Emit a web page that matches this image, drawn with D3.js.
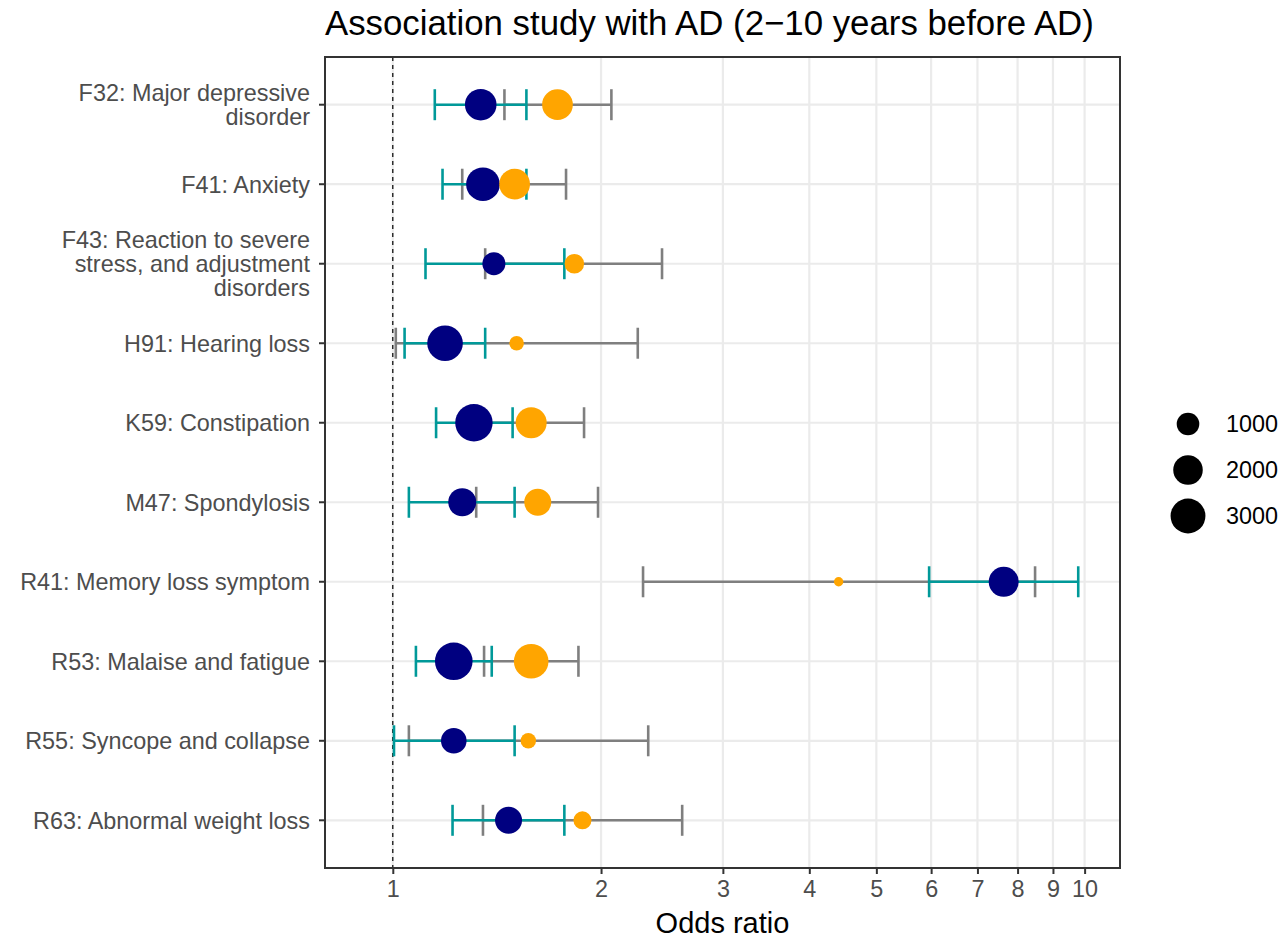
<!DOCTYPE html>
<html>
<head>
<meta charset="utf-8">
<script src="https://cdn.jsdelivr.net/npm/d3@7"></script>
<style>
  body { margin: 0; background: #fff; }
  text { font-family: "Liberation Sans", Arial, Helvetica, sans-serif; }
</style>
</head>
<body>
<div class="chart"></div>
<script>
// categories, top to bottom
var categories = [
  "F32: Major depressive\ndisorder",
  "F41: Anxiety",
  "F43: Reaction to severe\nstress, and adjustment\ndisorders",
  "H91: Hearing loss",
  "K59: Constipation",
  "M47: Spondylosis",
  "R41: Memory loss symptom",
  "R53: Malaise and fatigue",
  "R55: Syncope and collapse",
  "R63: Abnormal weight loss"
];

// navy points with teal intervals
var navyOR = [1.34, 1.35, 1.40, 1.19, 1.31, 1.26, 7.64, 1.225, 1.225, 1.47];
var navyLo = [1.15, 1.18, 1.115, 1.04, 1.155, 1.055, 5.96, 1.08, 1.004, 1.22];
var navyHi = [1.56, 1.56, 1.77, 1.36, 1.49, 1.50, 9.79, 1.39, 1.50, 1.77];
var navyN = [2350, 2750, 1050, 3150, 3550, 1750, 2080, 3590, 1390, 1590];

// orange points with grey intervals
var orangeOR = [1.73, 1.50, 1.83, 1.51, 1.585, 1.62, 4.41, 1.585, 1.57, 1.88];
var orangeLo = [1.45, 1.26, 1.36, 1.01, 1.30, 1.32, 2.30, 1.355, 1.055, 1.35];
var orangeHi = [2.07, 1.78, 2.45, 2.26, 1.89, 1.98, 8.48, 1.855, 2.34, 2.62];
var orangeN = [2200, 2200, 670, 270, 2250, 1600, 45, 2950, 330, 530];

var xTicks = [1, 2, 3, 4, 5, 6, 7, 8, 9, 10];
var legendSizes = [1000, 2000, 3000];

var svgWidth = 1285;
var svgHeight = 939;
var margin = {top: 57, right: 165, bottom: 71, left: 325};
var width = svgWidth - margin.left - margin.right;
var height = svgHeight - margin.top - margin.bottom;

var textSize = "23.4px";

var svg = d3.select(".chart")
  .append("svg")
  .attr("width", svgWidth)
  .attr("height", svgHeight);

var chartGroup = svg.append("g").attr("transform", `translate(${margin.left}, ${margin.top})`);

var xScale = d3.scaleLog().domain([0.798, 11.25]).range([0, width]);
var yScale = d3.scalePoint().domain(categories).range([0, height]).padding(0.6);
var rScale = d3.scaleSqrt().domain([45, 3590]).range([4.7, 18.8]);

var rows = categories.map(function(c, i) {
  return {
    cat: c,
    nOR: navyOR[i], nLo: navyLo[i], nHi: navyHi[i], nN: navyN[i],
    oOR: orangeOR[i], oLo: orangeLo[i], oHi: orangeHi[i], oN: orangeN[i]
  };
});

// grid lines
chartGroup.selectAll(".vgrid")
  .data(xTicks)
  .enter()
  .append("line")
  .attr("x1", d => xScale(d)).attr("x2", d => xScale(d))
  .attr("y1", 0).attr("y2", height)
  .attr("stroke", "#ebebeb").attr("stroke-width", 2.2);

chartGroup.selectAll(".hgrid")
  .data(categories)
  .enter()
  .append("line")
  .attr("x1", 0).attr("x2", width)
  .attr("y1", d => yScale(d)).attr("y2", d => yScale(d))
  .attr("stroke", "#ebebeb").attr("stroke-width", 2.2);

// reference line at OR = 1
chartGroup.append("line")
  .attr("x1", xScale(1)).attr("x2", xScale(1))
  .attr("y1", 0).attr("y2", height)
  .attr("stroke", "#000").attr("stroke-width", 1.2)
  .attr("stroke-dasharray", "4,4");

function drawBars(cls, lo, hi, color) {
  var g = chartGroup.selectAll("." + cls)
    .data(rows)
    .enter()
    .append("g")
    .attr("class", cls)
    .attr("stroke", color)
    .attr("stroke-width", 2.6);
  g.append("line")
    .attr("x1", d => xScale(d[lo])).attr("x2", d => xScale(d[hi]))
    .attr("y1", d => yScale(d.cat)).attr("y2", d => yScale(d.cat));
  g.append("line")
    .attr("x1", d => xScale(d[lo])).attr("x2", d => xScale(d[lo]))
    .attr("y1", d => yScale(d.cat) - 15.5).attr("y2", d => yScale(d.cat) + 15.5);
  g.append("line")
    .attr("x1", d => xScale(d[hi])).attr("x2", d => xScale(d[hi]))
    .attr("y1", d => yScale(d.cat) - 15.5).attr("y2", d => yScale(d.cat) + 15.5);
}

drawBars("greybar", "oLo", "oHi", "#7f7f7f");
drawBars("tealbar", "nLo", "nHi", "#009999");

chartGroup.selectAll(".navypt")
  .data(rows)
  .enter()
  .append("circle")
  .attr("cx", d => xScale(d.nOR))
  .attr("cy", d => yScale(d.cat))
  .attr("r", d => rScale(d.nN))
  .attr("fill", "#000080");

chartGroup.selectAll(".orangept")
  .data(rows)
  .enter()
  .append("circle")
  .attr("cx", d => xScale(d.oOR))
  .attr("cy", d => yScale(d.cat))
  .attr("r", d => rScale(d.oN))
  .attr("fill", "#ffa500");

// panel border
chartGroup.append("rect")
  .attr("width", width).attr("height", height)
  .attr("fill", "none").attr("stroke", "#333").attr("stroke-width", 2);

// x axis
var xAxis = chartGroup.append("g")
  .attr("transform", `translate(0, ${height})`)
  .call(d3.axisBottom(xScale).tickValues(xTicks).tickFormat(d3.format("d")).tickSize(6).tickPadding(6));
xAxis.select(".domain").remove();
xAxis.selectAll(".tick line").attr("stroke", "#333").attr("stroke-width", 2);
xAxis.selectAll(".tick text")
  .attr("fill", "#4d4d4d")
  .style("font-size", textSize)
  .style("font-family", "Liberation Sans, Arial, sans-serif");

// y axis ticks
chartGroup.selectAll(".ytick")
  .data(categories)
  .enter()
  .append("line")
  .attr("x1", -6).attr("x2", 0)
  .attr("y1", d => yScale(d)).attr("y2", d => yScale(d))
  .attr("stroke", "#333").attr("stroke-width", 2);

var lineH = 24;
chartGroup.selectAll(".ylab")
  .data(categories)
  .enter()
  .append("text")
  .attr("text-anchor", "end")
  .attr("fill", "#4d4d4d")
  .style("font-size", textSize)
  .each(function(d) {
    var lines = d.split("\n");
    var y0 = yScale(d) - (lines.length - 1) * lineH / 2 + 8.3;
    var t = d3.select(this);
    lines.forEach(function(l, k) {
      t.append("tspan").attr("x", -15).attr("y", y0 + k * lineH).text(l);
    });
  });

// axis title
svg.append("text")
  .attr("x", margin.left + width / 2)
  .attr("y", 933)
  .attr("text-anchor", "middle")
  .attr("fill", "#000")
  .style("font-size", "29px")
  .text("Odds ratio");

// title
svg.append("text")
  .attr("x", margin.left)
  .attr("y", 35)
  .attr("fill", "#000")
  .style("font-size", "34.8px")
  .text("Association study with AD (2\u221210 years before AD)");

// size legend
var legendGroup = svg.append("g").attr("transform", "translate(1188, 424)");
legendSizes.forEach(function(s, i) {
  legendGroup.append("circle")
    .attr("cx", 0).attr("cy", i * 46)
    .attr("r", rScale(s))
    .attr("fill", "#000");
  legendGroup.append("text")
    .attr("x", 38).attr("y", i * 46 + 8.3)
    .attr("fill", "#000")
    .style("font-size", textSize)
    .text(s);
});
</script>
</body>
</html>
